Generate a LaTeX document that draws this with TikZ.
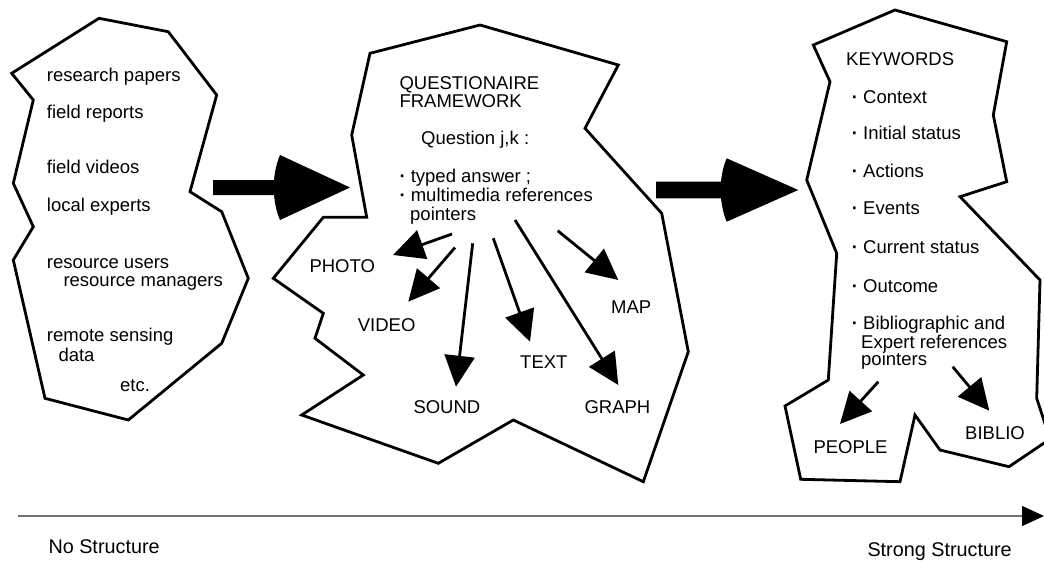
\documentclass[tikz,border=0pt]{standalone}
\usepackage{fontspec}
\setmainfont{Liberation Sans}
\usetikzlibrary{arrows.meta}
\newcommand{\mydot}{\textbf{·}}
\begin{document}
\begin{tikzpicture}[x=1pt,y=-1pt,
  blob/.style={draw=black, line width=2.8pt, line join=miter},
  lbl/.style={anchor=west, inner sep=0pt, text height=13.2pt, text depth=0pt, font=\fontsize{18.5}{18.5}\selectfont},
  axlbl/.style={anchor=west, inner sep=0pt, text height=14.2pt, text depth=0pt, font=\fontsize{19.8}{19.8}\selectfont},
  ptr/.style={line width=2.8pt, -{Triangle[length=31pt,width=30pt]}},
  bigarrow/.style={fill=black, draw=none},
  axisline/.style={draw=black!55, line width=1.3pt, -{Triangle[length=22pt,width=20pt,color=black]}}]
\useasboundingbox (0,0) rectangle (1044,560);
\clip (0,0) rectangle (1044,560);

% ---------- left blob ----------
\draw[blob] (99,18.3) -- (168.3,31.7) -- (216.7,95) -- (190,191.7) -- (221.7,211.7)
  -- (248.3,278.3) -- (221.7,343.3) -- (128.3,420) -- (45,398.3) -- (13.3,260)
  -- (33.3,226.7) -- (13.3,183.3) -- (33.3,100) -- (11.7,73.3) -- cycle;
\node[lbl] (l1) at (46.7,75) {research papers};
\node[lbl] (l2) at (46.7,111.7) {field reports};
\node[lbl] (l3) at (46.7,166.7) {field videos};
\node[lbl] (l4) at (46.7,205) {local experts};
\node[lbl] (l5) at (46.7,261.7) {resource users};
\node[lbl] (l6) at (63.3,280) {resource managers};
\node[lbl] (l7) at (46.7,335) {remote sensing};
\node[lbl] (l8) at (58.3,355) {data};
\node[lbl] (l9) at (120,385) {etc.};

% ---------- big arrow 1 ----------
\fill[bigarrow] (213,180) -- (274,180) .. controls (275,170) and (277,162) .. (280,155)
  -- (350,187.5) -- (280,220) .. controls (277,213) and (275,205) .. (274,195)
  -- (213,195) -- cycle;

% ---------- middle blob ----------
\draw[blob] (480,25) -- (618.3,65) -- (585,128.3) -- (661.7,213.3) -- (688.3,351.7)
  -- (643.3,481.7) -- (513.3,420) -- (438.3,463.3) -- (301.7,415) -- (363.3,375)
  -- (315,338.3) -- (323.3,313.3) -- (273.3,278.3) -- (323.3,217.3) -- (366.7,217.3)
  -- (351.7,135) -- (370,53.3) -- cycle;
\node[lbl] (q1) at (399.3,83.3) {QUESTIONAIRE};
\node[lbl] (q2) at (399.3,101) {FRAMEWORK};
\node[lbl] (q3) at (421,138.3) {Question j,k :};
\node[lbl] (q4) at (399.3,176) {\mydot{} typed answer ;};
\node[lbl] (q5) at (399.3,195) {\mydot{} multimedia references};
\node[lbl] (q6) at (410,214) {pointers};

\node[lbl] (photo) at (309.3,266) {PHOTO};
\node[lbl] (video) at (357.7,325) {VIDEO};
\node[lbl] (sound) at (413.3,406.7) {SOUND};
\node[lbl] (text) at (520,362.3) {TEXT};
\node[lbl] (graph) at (584.3,406.7) {GRAPH};
\node[lbl] (map) at (611,306.7) {MAP};

\coordinate (sPhoto) at (452,234);   \coordinate (tPhoto) at (393,255);
\coordinate (sVideo) at (455,247.5); \coordinate (tVideo) at (408.3,301.7);
\coordinate (sSound) at (472.7,243.3); \coordinate (tSound) at (456,386.7);
\coordinate (sText) at (493.3,238.3); \coordinate (tText) at (530,341.7);
\coordinate (sGraph) at (515,220);   \coordinate (tGraph) at (618.3,385);
\coordinate (sMap) at (557.7,230.7); \coordinate (tMap) at (618.3,280);
\draw[ptr] (sPhoto) -- (tPhoto);
\draw[ptr] (sVideo) -- (tVideo);
\draw[ptr] (sSound) -- (tSound);
\draw[ptr] (sText) -- (tText);
\draw[ptr] (sGraph) -- (tGraph);
\draw[ptr] (sMap) -- (tMap);

% ---------- big arrow 2 ----------
\fill[bigarrow] (656,181.7) -- (721,181.7) .. controls (722,172) and (724,164) .. (726.7,158.3)
  -- (798.3,190) -- (726.7,221.7) .. controls (724,216) and (722,207) .. (721,198.3)
  -- (656,198.3) -- cycle;

% ---------- right blob ----------
\draw[blob] (895,10) -- (1006.7,41.7) -- (993.3,115) -- (1006.7,181.7) -- (960,196.7)
  -- (1040,280) -- (1036.7,398.3) -- (1050,439) -- (1009,466.7) -- (940,450)
  -- (915,415) -- (900,481.7) -- (800.7,479.3) -- (785,406) -- (828.3,380)
  -- (836.7,253.3) -- (806.7,180) -- (830,81.7) -- (813.3,45) -- cycle;
\node[lbl] (k0) at (846,59.3) {KEYWORDS};
\node[lbl] (k1) at (851.7,96.7) {\mydot{} Context};
\node[lbl] (k2) at (851.7,133.3) {\mydot{} Initial status};
\node[lbl] (k3) at (851.7,170.7) {\mydot{} Actions};
\node[lbl] (k4) at (851.7,208.3) {\mydot{} Events};
\node[lbl] (k5) at (851.7,247.3) {\mydot{} Current status};
\node[lbl] (k6) at (851.7,286) {\mydot{} Outcome};
\node[lbl] (k7) at (851.7,323.3) {\mydot{} Bibliographic and};
\node[lbl] (k8) at (861,341.7) {Expert references};
\node[lbl] (k9) at (861,359.3) {pointers};
\node[lbl] (people) at (813.3,446.7) {PEOPLE};
\node[lbl] (biblio) at (965,433.3) {BIBLIO};
\coordinate (sPeople) at (878.3,381.7); \coordinate (tPeople) at (840,424);
\coordinate (sBiblio) at (952.7,366.7); \coordinate (tBiblio) at (989.3,410.7);
\draw[ptr] (sPeople) -- (tPeople);
\draw[ptr] (sBiblio) -- (tBiblio);

% ---------- axis ----------
\coordinate (ax0) at (18.3,516);
\coordinate (ax1) at (1044,516);
\draw[axisline] (ax0) -- (ax1);
\node[axlbl] (nostr) at (48.3,546) {No Structure};
\node[axlbl] (strong) at (867.3,549) {Strong Structure};
\end{tikzpicture}
\end{document}
